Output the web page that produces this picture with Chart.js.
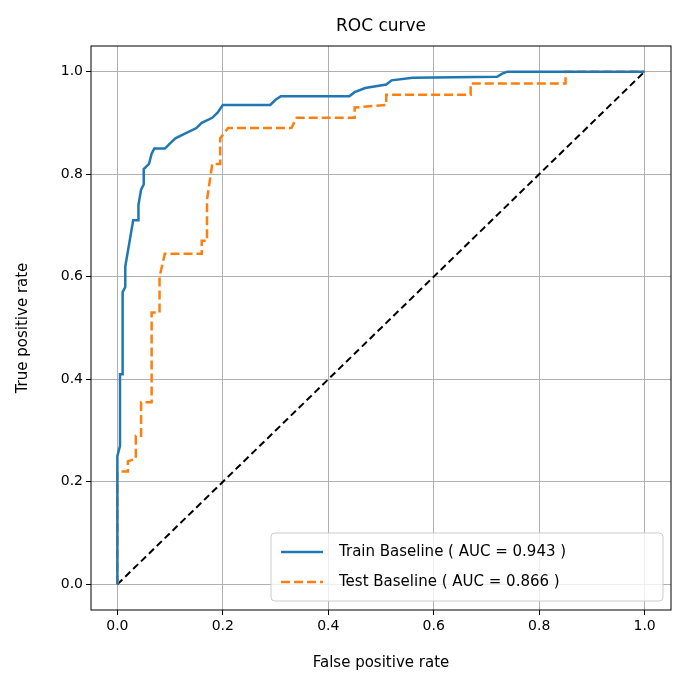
<!DOCTYPE html>
<html>
<head>
<meta charset="utf-8">
<script src="https://cdn.jsdelivr.net/npm/chart.js@4/dist/chart.umd.min.js"></script>
<style>
  body { margin: 0; background: #fff; }
  #wrap { width: 687px; height: 690px; }
</style>
</head>
<body>
<div id="wrap"><canvas id="roc" width="687" height="690"></canvas></div>
<script>
const trainFpr = [0, 0, 0.005, 0.005, 0.01, 0.01, 0.015, 0.015, 0.02, 0.025, 0.03, 0.04, 0.04, 0.045, 0.05, 0.05, 0.06, 0.065, 0.07, 0.09, 0.1, 0.11, 0.13, 0.15, 0.16, 0.18, 0.19, 0.2, 0.29, 0.3, 0.31, 0.44, 0.45, 0.47, 0.51, 0.52, 0.56, 0.72, 0.73, 0.74, 1];
const trainTpr = [0, 0.25, 0.27, 0.41, 0.41, 0.57, 0.58, 0.62, 0.65, 0.68, 0.71, 0.71, 0.74, 0.77, 0.78, 0.81, 0.82, 0.84, 0.85, 0.85, 0.86, 0.87, 0.88, 0.89, 0.9, 0.91, 0.92, 0.935, 0.935, 0.945, 0.952, 0.952, 0.96, 0.968, 0.975, 0.983, 0.988, 0.99, 0.996, 1, 1];
const testFpr = [0, 0, 0.02, 0.02, 0.035, 0.035, 0.045, 0.045, 0.065, 0.065, 0.08, 0.08, 0.09, 0.16, 0.16, 0.17, 0.17, 0.18, 0.195, 0.195, 0.21, 0.33, 0.34, 0.45, 0.45, 0.51, 0.51, 0.67, 0.67, 0.85, 0.85, 1];
const testTpr = [0, 0.22, 0.22, 0.24, 0.245, 0.29, 0.29, 0.355, 0.355, 0.53, 0.53, 0.6, 0.645, 0.645, 0.67, 0.67, 0.75, 0.82, 0.82, 0.87, 0.89, 0.89, 0.91, 0.91, 0.93, 0.935, 0.955, 0.955, 0.977, 0.977, 1, 1];
const tickValues = [0, 0.2, 0.4, 0.6, 0.8, 1.0];
const labels = ['Train Baseline ( AUC = 0.943 )', 'Test Baseline ( AUC = 0.866 )'];

const toPoints = (xs, ys) => xs.map((x, i) => ({ x, y: ys[i] }));

const frame = {
  id: 'frame',
  afterDraw(chart) {
    const { ctx, chartArea: a } = chart;
    ctx.save();
    ctx.strokeStyle = '#000';
    ctx.lineWidth = 1;
    ctx.strokeRect(a.left, a.top, a.right - a.left, a.bottom - a.top);
    ctx.fillStyle = '#000';
    ctx.font = '17px "DejaVu Sans"';
    ctx.textAlign = 'center';
    ctx.textBaseline = 'middle';
    ctx.fillText('ROC curve', (a.left + a.right) / 2, 27);
    // legend
    const w = 392, h = 68, x0 = a.right - w - 8, y0 = a.bottom - h - 9;
    ctx.fillStyle = 'rgba(255,255,255,0.8)';
    ctx.strokeStyle = '#ccc';
    ctx.beginPath();
    ctx.roundRect(x0, y0, w, h, 4);
    ctx.fill();
    ctx.stroke();
    const styles = [['#1f77b4', []], ['#ff7f0e', [9, 4]]];
    ctx.font = '15px "DejaVu Sans"';
    ctx.textAlign = 'left';
    labels.forEach((t, i) => {
      const y = y0 + 19 + i * 30;
      ctx.strokeStyle = styles[i][0];
      ctx.setLineDash(styles[i][1]);
      ctx.lineWidth = 2.5;
      ctx.beginPath();
      ctx.moveTo(x0 + 10, y);
      ctx.lineTo(x0 + 52, y);
      ctx.stroke();
      ctx.setLineDash([]);
      ctx.fillStyle = '#000';
      ctx.fillText(t, x0 + 68, y);
    });
    ctx.restore();
  }
};

const axis = (title) => ({
  type: 'linear',
  min: -0.05,
  max: 1.05,
  afterBuildTicks: s => { s.ticks = tickValues.map(v => ({ value: v })); },
  grid: { color: '#b0b0b0', drawTicks: true, tickLength: 5, tickColor: '#000' },
  border: { display: false },
  ticks: { color: '#000', font: { size: 14, family: 'DejaVu Sans' }, callback: v => v.toFixed(1) },
  title: { display: true, text: title, color: '#000', font: { size: 15, family: 'DejaVu Sans' } }
});

const xAxis = axis('False positive rate');
xAxis.afterFit = s => { s.height = 66; };
const yAxis = axis('True positive rate');
yAxis.afterFit = s => { s.width = 81; };

new Chart(document.getElementById('roc'), {
  type: 'scatter',
  data: {
    datasets: [
      { data: toPoints(trainFpr, trainTpr), showLine: true, borderColor: '#1f77b4', borderWidth: 2.5, pointRadius: 0, tension: 0 },
      { data: toPoints(testFpr, testTpr), showLine: true, borderColor: '#ff7f0e', borderWidth: 2.5, borderDash: [9, 4], pointRadius: 0, tension: 0 },
      { data: [{ x: 0, y: 0 }, { x: 1, y: 1 }], showLine: true, borderColor: '#000', borderWidth: 2, borderDash: [7, 4], pointRadius: 0 }
    ]
  },
  options: {
    responsive: false,
    animation: false,
    layout: { padding: { top: 46, right: 16, left: 10, bottom: 14 } },
    plugins: { legend: { display: false }, tooltip: { enabled: false } },
    scales: { x: xAxis, y: yAxis }
  },
  plugins: [frame]
});
</script>
</body>
</html>
